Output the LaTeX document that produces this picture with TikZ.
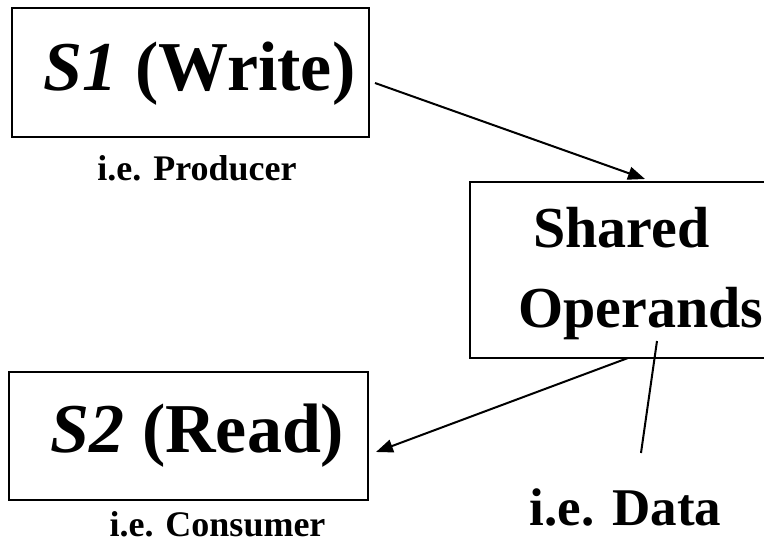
\documentclass[tikz,border=0pt]{standalone}
\usepackage{fontspec}
\setmainfont{Liberation Serif}
\usetikzlibrary{arrows.meta}

\tikzset{
  box/.style={draw, line width=2pt, inner sep=0pt},
  big/.style={inner sep=0pt, font=\bfseries\fontsize{70}{84}\selectfont},
  mid/.style={inner sep=0pt, font=\bfseries\fontsize{58}{70}\selectfont},
  note/.style={inner sep=0pt, font=\bfseries\fontsize{36}{43}\selectfont},
  link/.style={line width=2pt, -{Triangle[length=17pt,width=13pt]}},
}

\begin{document}
\begin{tikzpicture}[x=1pt, y=-1pt]

\clip (0,0) rectangle (764,546); %% page size

%% boxes
\node[box, minimum width=357pt, minimum height=129pt] (s1) at (190.5,72.5) {};
\node[box, minimum width=330pt, minimum height=176pt] (shared) at (635,270) {};
\node[box, minimum width=359pt, minimum height=128pt] (s2) at (188.5,436) {};

%% texts
\node[big, anchor=base] (s1txt) at (199.5,90) {\textit{S1} (Write)};
\node[big, anchor=base] (s2txt) at (197.5,452) {\textit{S2} (Read)};
\node[mid, anchor=base west] (sharedtxt) at (533,247) {Shared};
\node[mid, anchor=base west] (opertxt) at (518,327) {Operands};

\node[note, anchor=base] (producer) at (197,180) {i.e. Producer};
\node[note, anchor=base] (consumer) at (217.5,536) {i.e. Consumer};
\node[mid, font=\bfseries\fontsize{53}{64}\selectfont, anchor=base] (data) at (625.5,525) {i.e. Data};

%% connectors
\coordinate (wfrom) at ([xshift=5pt,yshift=-10.5pt]s1.east);
\coordinate (wto) at ([xshift=10pt,yshift=2pt]shared.north);
\coordinate (rfrom) at ([xshift=-7pt,yshift=1pt]shared.south);
\coordinate (rto) at ([xshift=7pt,yshift=-16pt]s2.east);
\coordinate (dfrom) at ([xshift=22pt,yshift=18pt]shared.south);
\coordinate (dto) at ([xshift=6pt,yshift=-94pt]shared.south);

\draw[link] (wfrom) -- (wto);
\draw[link] (rfrom) -- (rto);
\draw[line width=2pt] (dfrom) -- (dto);

\end{tikzpicture}
\end{document}
